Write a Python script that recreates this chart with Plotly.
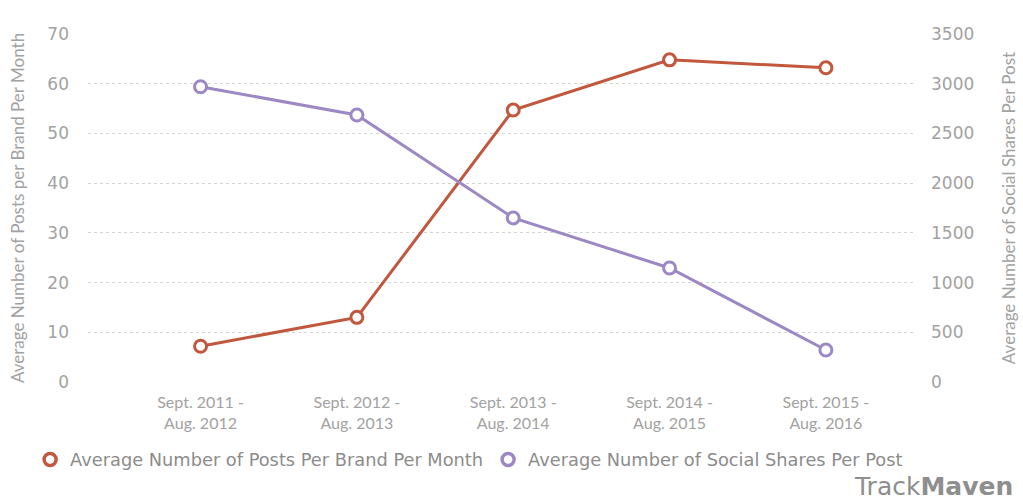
import plotly.graph_objects as go

periods = ["Sept. 2011 -<br>Aug. 2012", "Sept. 2012 -<br>Aug. 2013", "Sept. 2013 -<br>Aug. 2014",
           "Sept. 2014 -<br>Aug. 2015", "Sept. 2015 -<br>Aug. 2016"]
posts_per_month = [7.2, 13.0, 54.7, 64.8, 63.2]
shares_per_post = [2970, 2685, 1650, 1147, 322]
left_ticks = [0, 10, 20, 30, 40, 50, 60, 70]
right_ticks = [0, 500, 1000, 1500, 2000, 2500, 3000, 3500]
series_names = ["Average Number of Posts Per Brand Per Month",
                "Average Number of Social Shares Per Post"]

ORANGE = "#c1573c"
PURPLE = "#9b88c4"
GREY = "#a2a2a2"
LATO = "Lato, 'Open Sans', sans-serif"
WIDE = "'DejaVu Sans', Verdana, sans-serif"

xs = list(range(len(periods)))

fig = go.Figure()
fig.add_trace(go.Scatter(
    x=xs, y=posts_per_month, name=series_names[0], showlegend=False,
    mode="lines+markers", line=dict(color=ORANGE, width=3),
    marker=dict(symbol="circle", size=12, color="white", line=dict(color=ORANGE, width=3)),
    yaxis="y"))
fig.add_trace(go.Scatter(
    x=xs, y=shares_per_post, name=series_names[1], showlegend=False,
    mode="lines+markers", line=dict(color=PURPLE, width=3),
    marker=dict(symbol="circle", size=12, color="white", line=dict(color=PURPLE, width=3)),
    yaxis="y2"))
# legend-only entries (circle symbol without line)
for nm, col in zip(series_names, [ORANGE, PURPLE]):
    fig.add_trace(go.Scatter(
        x=[None], y=[None], name=nm, mode="markers",
        marker=dict(symbol="circle", size=12, color="white", line=dict(color=col, width=3.5))))

fig.update_layout(
    width=1023, height=501,
    margin=dict(l=88, r=108, t=34, b=119, autoexpand=False),
    paper_bgcolor="white", plot_bgcolor="white",
    font=dict(family=LATO, color=GREY, size=14),
    showlegend=True,
    legend=dict(orientation="h", x=-0.07, xanchor="left", y=-0.224, yanchor="middle",
                font=dict(family=WIDE, size=17.8, color="#8c8c8c"), tracegroupgap=0,
                bgcolor="rgba(0,0,0,0)"),
    xaxis=dict(
        tickmode="array", tickvals=xs, ticktext=periods,
        range=[-0.72, 4.57], showgrid=False, zeroline=False, showline=False,
        tickfont=dict(family=LATO, size=16, color=GREY), ticks="", ticklabelstandoff=9,
    ),
    yaxis=dict(
        range=[0, 70], tickmode="array", tickvals=left_ticks,
        showgrid=True, gridcolor="#d4d4d4", griddash="dot", gridwidth=1,
        zeroline=False, showline=False, ticks="", ticklabelstandoff=18,
        tickfont=dict(family=WIDE, size=17, color=GREY),
        title=dict(text="Average Number of Posts per Brand Per Month",
                   font=dict(family=LATO, size=17, color=GREY), standoff=18),
    ),
    yaxis2=dict(
        range=[0, 3500], tickmode="array", tickvals=right_ticks,
        overlaying="y", side="right", showgrid=False, zeroline=False, showline=False,
        ticks="", ticklabelstandoff=15, tickfont=dict(family=WIDE, size=17, color=GREY),
        title=dict(text="Average Number of Social Shares Per Post",
                   font=dict(family=LATO, size=17, color=GREY), standoff=29),
    ),
)

fig.add_annotation(
    text="Track<b>Maven</b>", xref="paper", yref="paper", x=1.121, y=-0.299,
    xanchor="right", yanchor="middle", showarrow=False,
    font=dict(family=WIDE, size=25, color="#8e8e8e"))

fig.write_html("out.html")
